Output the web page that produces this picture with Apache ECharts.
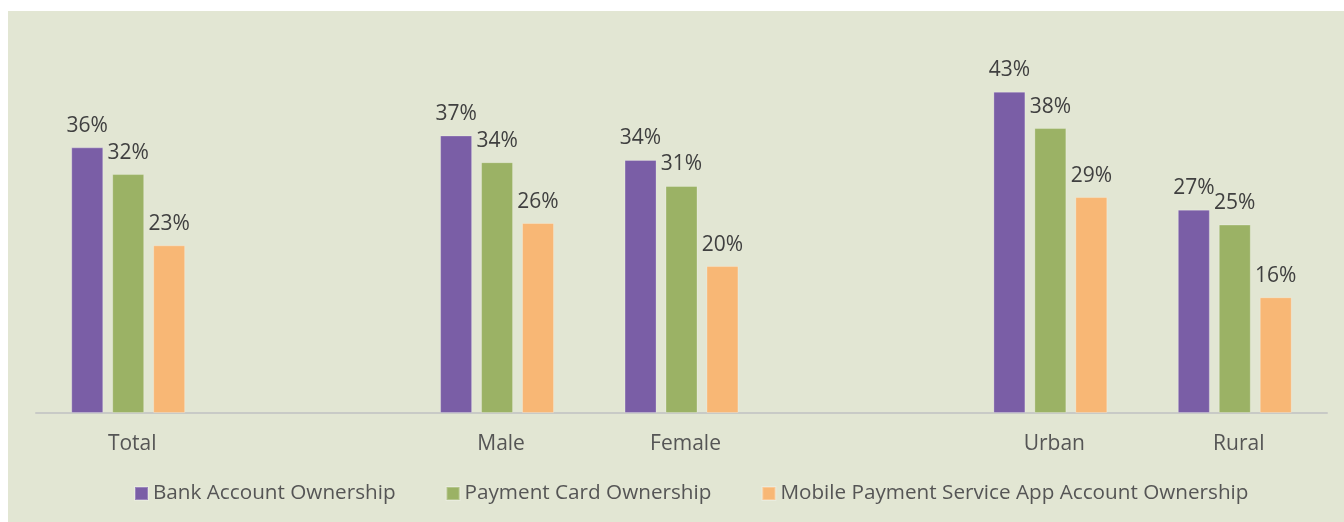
<!DOCTYPE html>
<html>
<head>
<meta charset="utf-8">
<script src="https://cdn.jsdelivr.net/npm/echarts@6/dist/echarts.min.js"></script>
<style>
  html, body { margin: 0; padding: 0; background: #ffffff; }
  #chart { position: absolute; left: 8px; top: 11px; width: 1336px; height: 511px; background: #e2e6d3; }
</style>
</head>
<body>
<div id="chart"></div>
<script>
// categories (blank slots keep the gaps between groups)
var categories = ["Total", "", "Male", "Female", "", "Urban", "Rural"];
var bankAccount = [35.8, null, 37.4, 34.1, null, 43.3, 27.4];
var paymentCard = [32.2, null, 33.8, 30.6, null, 38.4, 25.4];
var mobileApp = [22.6, null, 25.6, 19.8, null, 29.1, 15.6];
var seriesNames = ["Bank Account Ownership", "Payment Card Ownership", "Mobile Payment Service App Account Ownership"];
var colors = ["#7a5ea6", "#9bb265", "#f8b775"];

var font = "Open Sans";

function bar(name, data, color) {
    return {
        name: name,
        type: "bar",
        data: data,
        barWidth: 32,
        barGap: "28%",
        itemStyle: { color: color, borderColor: "rgba(255,255,255,0.25)", borderWidth: 1 },
        label: {
            show: true,
            position: "top",
            distance: 11,
            color: "#404040",
            fontFamily: font,
            fontSize: 21,
            formatter: function (p) { return Math.round(p.value) + "%"; }
        }
    };
}

var chart = echarts.init(document.getElementById("chart"));
chart.setOption({
    animation: false,
    color: colors,
    grid: { left: 28, right: 17, top: 31, bottom: 109, containLabel: false },
    legend: {
        bottom: 13,
        left: 121,
        icon: "rect",
        itemWidth: 13,
        itemHeight: 13,
        itemGap: 50,
        textStyle: { color: "#555555", fontFamily: font, fontSize: 20.7 },
        data: seriesNames
    },
    xAxis: {
        type: "category",
        data: categories,
        axisLine: { lineStyle: { color: "#c8cac6", width: 2 } },
        axisTick: { show: false },
        axisLabel: { color: "#555555", fontFamily: font, fontSize: 21, margin: 21, padding: [0, 0, 0, 8] }
    },
    yAxis: {
        type: "value",
        min: 0,
        max: 50,
        show: false
    },
    series: [
        bar(seriesNames[0], bankAccount, colors[0]),
        bar(seriesNames[1], paymentCard, colors[1]),
        bar(seriesNames[2], mobileApp, colors[2])
    ]
});
</script>
</body>
</html>
